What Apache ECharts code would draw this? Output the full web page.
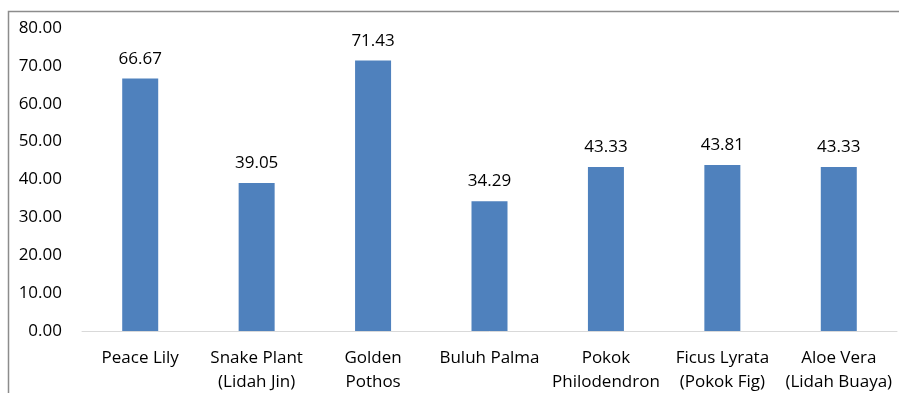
<!DOCTYPE html>
<html>
<head>
<meta charset="utf-8">
<script src="https://cdn.jsdelivr.net/npm/echarts@6/dist/echarts.min.js"></script>
<style>
  html, body { margin: 0; padding: 0; background: #fff; }
  #chart { width: 899px; height: 393px; }
</style>
</head>
<body>
<div id="chart"></div>
<script>
const plants = ['Peace Lily', 'Snake Plant\n(Lidah Jin)', 'Golden\nPothos', 'Buluh Palma', 'Pokok\nPhilodendron', 'Ficus Lyrata\n(Pokok Fig)', 'Aloe Vera\n(Lidah Buaya)']
const scores = [66.67, 39.05, 71.43, 34.29, 43.33, 43.81, 43.33]

const chart = echarts.init(document.getElementById('chart'))
const font = '"Open Sans", "Noto Sans", sans-serif'

chart.setOption({
  animation: false,
  grid: { left: 82, right: 2, top: 28, bottom: 62, outerBoundsMode: 'none', containLabel: false },
  graphic: [
    {
      type: 'polyline',
      shape: { points: [[8.5, 400], [8.5, 11.5], [899, 11.5]] },
      style: { stroke: '#8c8c8c', lineWidth: 1.5, fill: null }
    }
  ],
  xAxis: {
    type: 'category',
    data: plants,
    axisTick: { show: false },
    axisLine: { lineStyle: { color: '#d9d9d9', width: 1 } },
    axisLabel: {
      color: '#000',
      fontSize: 17,
      fontFamily: font,
      lineHeight: 24,
      margin: 15,
      interval: 0
    }
  },
  yAxis: {
    type: 'value',
    min: 0,
    max: 80,
    interval: 10,
    splitLine: { show: false },
    axisLine: { show: false },
    axisTick: { show: false },
    axisLabel: {
      color: '#000',
      fontSize: 17,
      fontFamily: font,
      margin: 20,
      formatter: v => v.toFixed(2)
    }
  },
  series: [{
    type: 'bar',
    data: scores,
    barWidth: 36,
    itemStyle: { color: '#4f81bd' },
    label: {
      show: true,
      position: 'top',
      distance: 11,
      color: '#000',
      fontSize: 17,
      fontFamily: font,
      formatter: p => p.value.toFixed(2)
    }
  }]
})
</script>
</body>
</html>
